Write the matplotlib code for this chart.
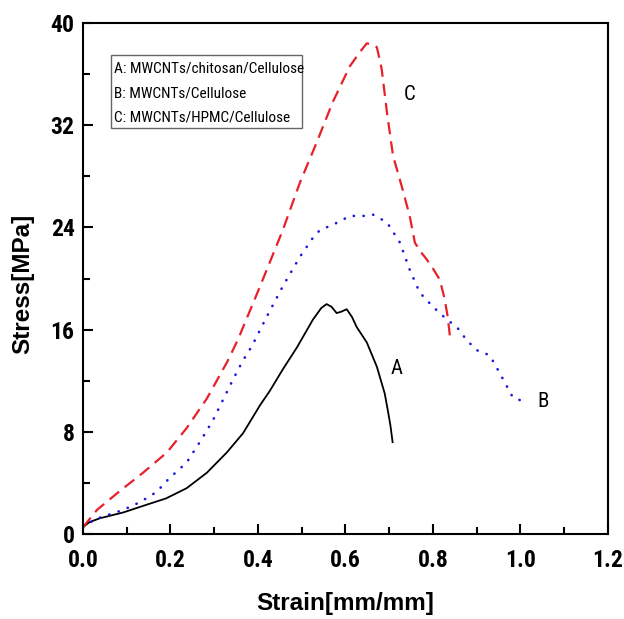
import matplotlib
matplotlib.use("Agg")
import matplotlib.pyplot as plt
from matplotlib.patches import Rectangle
from matplotlib.ticker import MultipleLocator

NARROW = ["Roboto Condensed", "Archivo Narrow", "Asap Condensed", "Liberation Sans"]

# Curve A: MWCNTs/chitosan/Cellulose
a_x = [0.0, 0.015, 0.039, 0.092, 0.145, 0.19, 0.237, 0.283, 0.329, 0.366, 0.405, 0.427,
       0.457, 0.489, 0.526, 0.545, 0.557, 0.568, 0.58, 0.59, 0.603, 0.615, 0.626, 0.649,
       0.672, 0.69, 0.697, 0.703, 0.708]
a_y = [0.55, 0.95, 1.25, 1.7, 2.3, 2.8, 3.6, 4.8, 6.4, 7.9, 10.1, 11.2,
       12.9, 14.6, 16.8, 17.7, 18.0, 17.8, 17.3, 17.4, 17.6, 17.0, 16.2, 15.0,
       13.1, 11.0, 9.7, 8.5, 7.2]

# Curve B: MWCNTs/Cellulose
b_x = [0.0, 0.015, 0.039, 0.092, 0.13, 0.168, 0.198, 0.237, 0.267, 0.297, 0.32, 0.343,
       0.366, 0.386, 0.42, 0.457, 0.496, 0.526, 0.542, 0.571, 0.594, 0.61, 0.626, 0.649,
       0.663, 0.679, 0.695, 0.725, 0.747, 0.77, 0.80, 0.832, 0.855, 0.877, 0.90, 0.93,
       0.953, 0.983, 1.006]
b_y = [0.55, 0.9, 1.3, 1.9, 2.5, 3.3, 4.4, 5.6, 7.2, 8.9, 10.5, 12.1,
       13.6, 14.7, 17.0, 19.4, 21.7, 23.2, 23.8, 24.2, 24.6, 24.9, 24.9, 24.9,
       25.0, 24.7, 24.4, 22.8, 20.7, 18.9, 17.8, 16.8, 16.2, 15.2, 14.4, 14.0,
       12.6, 10.7, 10.4]

# Curve C: MWCNTs/HPMC/Cellulose
c_x = [0.0, 0.032, 0.085, 0.137, 0.192, 0.237, 0.283, 0.33, 0.354, 0.405, 0.457, 0.496,
       0.535, 0.571, 0.61, 0.635, 0.649, 0.662, 0.672, 0.683, 0.695, 0.709, 0.729, 0.747,
       0.759, 0.772, 0.786, 0.80, 0.816, 0.827, 0.834, 0.839]
c_y = [0.55, 1.9, 3.4, 4.8, 6.4, 8.3, 10.6, 13.5, 15.2, 19.4, 23.8, 27.5,
       30.7, 33.8, 36.6, 37.8, 38.4, 38.3, 38.1, 36.4, 33.0, 29.6, 27.2, 24.9,
       22.8, 22.1, 21.5, 20.8, 19.9, 18.4, 17.0, 15.5]

legend_lines = ["A: MWCNTs/chitosan/Cellulose", "B: MWCNTs/Cellulose", "C: MWCNTs/HPMC/Cellulose"]
legend_y = [36.4, 34.5, 32.6]
curve_labels = ["A", "B", "C"]
label_pos_x = [0.717, 1.051, 0.747]
label_pos_y = [13.0, 10.4, 34.4]

x_ticks = [0.0, 0.2, 0.4, 0.6, 0.8, 1.0, 1.2]
y_ticks = [0, 8, 16, 24, 32, 40]

fig = plt.figure(figsize=(6.24, 6.19), dpi=100)
ax = fig.add_axes([0.133, 0.137, 0.841, 0.826])

ax.plot(a_x, a_y, color="black", lw=1.3, solid_joinstyle="round")
ax.plot(b_x, b_y, color="#1a1add", lw=1.9, linestyle=(0, (0.1, 3.6)), dash_capstyle="round")
ax.plot(c_x, c_y, color="#e8202a", lw=1.6, linestyle=(0, (5.5, 3.2)))

for lab, lx, ly in zip(curve_labels, label_pos_x, label_pos_y):
    ax.text(lx, ly, lab, fontsize=15, family=NARROW, ha="center", va="center")

ax.add_patch(Rectangle((0.064, 31.8), 0.4366, 5.7, facecolor="white",
                       edgecolor="#666666", lw=1.0, zorder=3))
for line, ly in zip(legend_lines, legend_y):
    ax.text(0.071, ly, line, fontsize=11, family=NARROW, ha="left", va="center", zorder=4)

ax.set_xlim(0, 1.2)
ax.set_ylim(0, 40)
ax.set_xticks(x_ticks)
ax.set_yticks(y_ticks)
ax.set_xticklabels([f"{v:.1f}" for v in x_ticks])
ax.set_yticklabels([str(v) for v in y_ticks])
ax.xaxis.set_minor_locator(MultipleLocator(0.1))
ax.yaxis.set_minor_locator(MultipleLocator(4))
ax.tick_params(which="both", direction="in", top=False, right=False, width=1.5, color="black")
ax.tick_params(which="major", length=7)
ax.tick_params(which="minor", length=5)
ax.tick_params(axis="x", which="major", pad=11)
ax.tick_params(axis="y", which="major", pad=6)
for lbl in ax.get_xticklabels() + ax.get_yticklabels():
    lbl.set_fontfamily(NARROW)
    lbl.set_fontweight("bold")
    lbl.set_fontsize(17)
for sp in ax.spines.values():
    sp.set_linewidth(1.5)

ax.set_xlabel("Strain[mm/mm]", fontsize=17.5, fontweight="bold", family="Liberation Sans")
ax.set_ylabel("Stress[MPa]", fontsize=17.5, fontweight="bold", family="Liberation Sans")
ax.xaxis.set_label_coords(0.5, -0.113)
ax.yaxis.set_label_coords(-0.092, 0.49)

fig.savefig("out.png", dpi=100)
